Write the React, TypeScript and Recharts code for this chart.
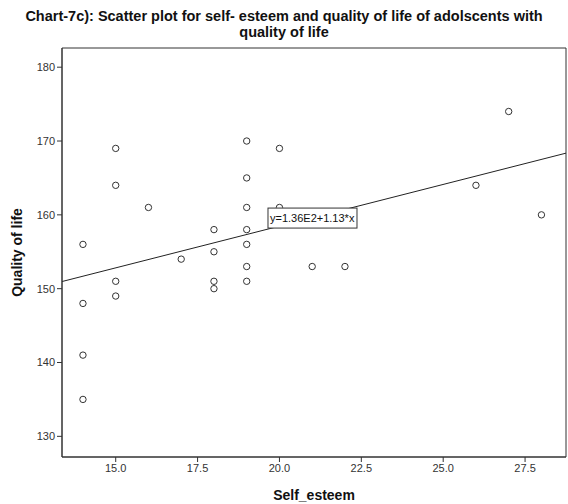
import React from "react";
import {
  ReferenceArea,
  ReferenceDot,
  ReferenceLine,
  Scatter,
  ScatterChart,
  XAxis,
  YAxis,
} from "recharts";

const FONT = "Arial, 'Liberation Sans', sans-serif";

// self-esteem score, quality of life score
const selfEsteem = [
  14, 14, 14, 14, 15, 15, 15, 15, 16, 17, 18, 18, 18, 18, 19, 19, 19, 19, 19, 19, 19, 20, 20,
  21, 22, 26, 27, 28,
];
const qualityOfLife = [
  156, 148, 141, 135, 169, 164, 151, 149, 161, 154, 158, 155, 151, 150, 170, 165, 161, 158,
  156, 153, 151, 169, 161, 153, 153, 164, 174, 160,
];

const xTicks = [15, 17.5, 20, 22.5, 25, 27.5];
const yTicks = [130, 140, 150, 160, 170, 180];
const xDomain = [13.36, 28.75];
const yDomain = [127.2, 182.6];

// fit line from the label y=1.36E2+1.13*x
const FIT_INTERCEPT = 135.87;
const FIT_SLOPE = 1.13;
const FIT_LABEL = "y=1.36E2+1.13*x";
const LABEL_X = 19.65;

const points = selfEsteem.map((x, i) => ({ x, y: qualityOfLife[i] }));
const fitAt = (x: number) => FIT_INTERCEPT + FIT_SLOPE * x;

const Circle = (props: any) => (
  <circle cx={props.cx} cy={props.cy} r={3.2} fill="none" stroke="#333" strokeWidth={1} />
);

const FitLabel = (props: any) => {
  const { cx, cy } = props;
  return (
    <g>
      <rect x={cx} y={cy - 21} width={89} height={20} fill="#fff" stroke="#333" strokeWidth={1} />
      <text x={cx + 2} y={cy - 7} fontSize={11} fill="#111" fontFamily={FONT}>
        {FIT_LABEL}
      </text>
    </g>
  );
};

export default function App() {
  return (
    <div style={{ position: "absolute", left: 0, top: 0, width: 568, height: 504, background: "#fff" }}>
      <div
        style={{
          position: "absolute",
          top: 9,
          left: 0,
          width: 568,
          textAlign: "center",
          fontFamily: FONT,
          fontWeight: "bold",
          fontSize: 14.5,
          lineHeight: "15.5px",
          whiteSpace: "nowrap",
          color: "#111",
        }}
      >
        Chart-7c): Scatter plot for self- esteem and quality of life of adolscents with
        <br />
        quality of life
      </div>
      <ScatterChart width={568} height={504} margin={{ top: 48, right: 2, left: 0, bottom: 0 }}>
        <XAxis
          type="number"
          dataKey="x"
          domain={xDomain}
          ticks={xTicks}
          allowDataOverflow
          tickFormatter={(v) => v.toFixed(1)}
          tick={{ fill: "#333", fontSize: 11, fontFamily: FONT }}
          tickSize={5}
          tickMargin={2}
          height={47}
          axisLine={{ stroke: "#333" }}
          tickLine={{ stroke: "#333" }}
          label={{
            value: "Self_esteem",
            position: "insideBottom",
            offset: 4,
            style: { fill: "#111", fontSize: 14, fontWeight: "bold", fontFamily: FONT },
          }}
        />
        <YAxis
          type="number"
          dataKey="y"
          domain={yDomain}
          ticks={yTicks}
          allowDataOverflow
          tick={{ fill: "#333", fontSize: 11, fontFamily: FONT }}
          tickSize={5}
          tickMargin={2}
          width={62}
          axisLine={{ stroke: "#333" }}
          tickLine={{ stroke: "#333" }}
          label={{
            value: "Quality of life",
            angle: -90,
            position: "insideLeft",
            offset: 17,
            style: { fill: "#111", fontSize: 14, fontWeight: "bold", fontFamily: FONT, textAnchor: "middle" },
          }}
        />
        <ReferenceArea
          x1={xDomain[0]}
          x2={xDomain[1]}
          y1={yDomain[0]}
          y2={yDomain[1]}
          fill="none"
          fillOpacity={0}
          stroke="#333"
          strokeWidth={1}
        />
        <Scatter data={points} shape={<Circle />} isAnimationActive={false} />
        <ReferenceLine
          segment={[
            { x: xDomain[0], y: fitAt(xDomain[0]) },
            { x: xDomain[1], y: fitAt(xDomain[1]) },
          ]}
          stroke="#222"
          strokeWidth={1}
          ifOverflow="visible"
        />
        <ReferenceDot x={LABEL_X} y={fitAt(LABEL_X)} shape={<FitLabel />} ifOverflow="visible" />
      </ScatterChart>
    </div>
  );
}
